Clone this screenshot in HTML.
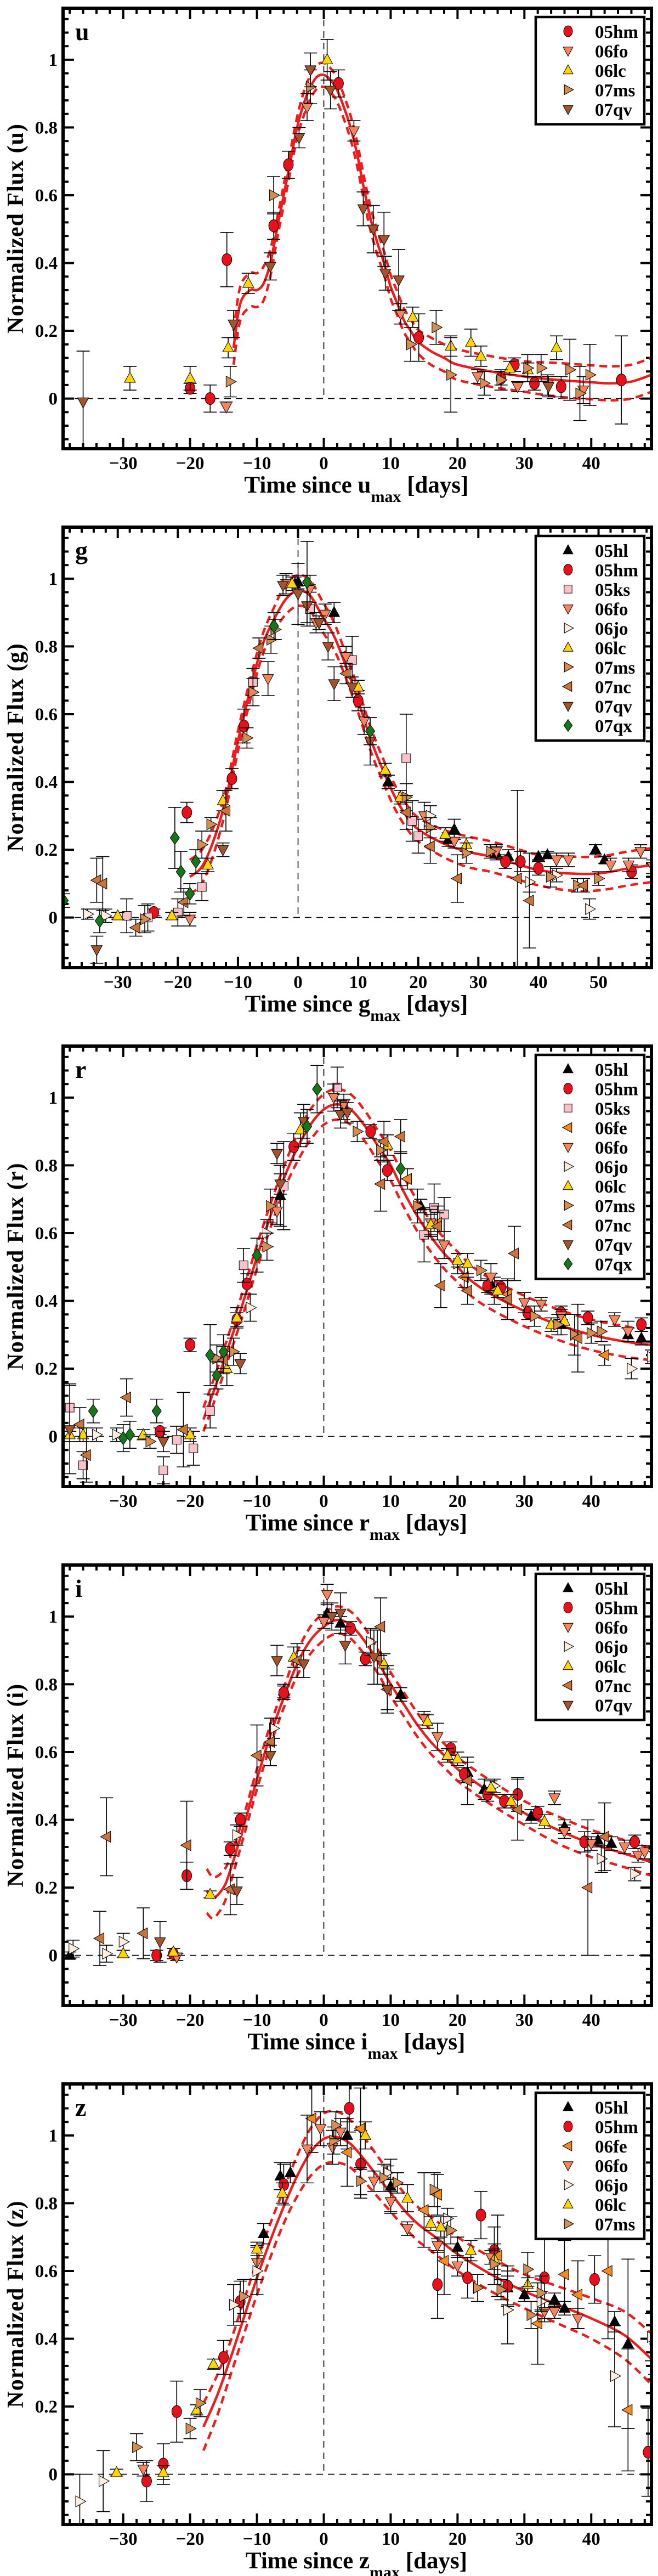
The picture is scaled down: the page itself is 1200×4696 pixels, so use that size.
<!DOCTYPE html>
<html><head><meta charset="utf-8"><style>
html,body{margin:0;padding:0;background:#fff}
svg{display:block}
text{font-family:"Liberation Serif",serif;font-weight:bold;fill:#000}
</style></head><body>
<svg id="fig" width="1200" height="4696" viewBox="0 0 1200 4696" xmlns="http://www.w3.org/2000/svg"></svg>
<script>
// ---------- data: [time, flux, error] ----------
const u_05hm=[[-20,0.03,0.015],[-17,0,0.04],[-14.5,0.41,0.08],[-7.5,0.51,0.04],[-5.3,0.69,0.04],[2.2,0.93,0.04],[14.2,0.18,0.07],[26.5,0.06,0.02],[28.5,0.10,0.02],[31.5,0.045,0.02],[35.5,0.035,0.03],[44.5,0.055,0.13]];
const u_06fo=[[-14.6,-0.025,0.015],[-2.5,0.86,0.04],[4.5,0.79,0.03],[11.5,0.25,0.03],[23,0.065,0.02],[29,0.035,0.015],[33.5,0.04,0.03],[38.8,0.025,0.04]];
const u_06lc=[[-29,0.06,0.035],[-20,0.06,0.035],[-14.3,0.15,0.03],[-11.3,0.34,0.03],[0.5,1.0,0.06],[13.3,0.24,0.03],[19,0.155,0.03],[22,0.165,0.04],[23.5,0.125,0.03],[27.8,0.09,0.02],[30.5,0.085,0.02],[34.8,0.15,0.035]];
const u_07ms=[[-14,0.05,0.045],[-7.5,0.6,0.055],[-2,0.92,0.05],[13,0.16,0.05],[16.8,0.21,0.05],[19,0.07,0.11],[24,0.045,0.035],[26.5,0.055,0.03],[30.5,0.09,0.04],[32.5,0.09,0.04],[36.8,0.085,0.09],[38.3,0.015,0.08],[39.8,0.07,0.09]];
const u_07qv=[[-36,-0.01,0.15],[-13.5,0.22,0.04],[-8,0.39,0.04],[-3.7,0.77,0.03],[-2,0.97,0.05],[1,0.91,0.055],[5.9,0.56,0.05],[7.4,0.5,0.07],[9,0.47,0.08],[9.2,0.37,0.05],[11.2,0.35,0.09],[33.6,0.035,0.03]];
const u_fitX=[-13.5,-12.5,-11,-10,-9,-8,-7,-6,-5,-4,-3,-2,-1,0,1,2,3,4,5,6,7,8,9,10,11,12,13,14,16,18,20,25,30,35,40,43,46,49];
const u_fitY=[0.15,0.28,0.32,0.32,0.34,0.40,0.50,0.60,0.70,0.80,0.87,0.92,0.95,0.955,0.94,0.91,0.86,0.80,0.72,0.62,0.53,0.46,0.40,0.33,0.28,0.23,0.20,0.17,0.14,0.12,0.10,0.08,0.065,0.055,0.048,0.045,0.05,0.07];
const u_fitS=[0.05,0.05,0.05,0.05,0.05,0.04,0.03,0.03,0.03,0.03,0.035,0.035,0.035,0.035,0.035,0.035,0.035,0.035,0.035,0.035,0.035,0.035,0.035,0.035,0.035,0.035,0.035,0.035,0.04,0.04,0.045,0.045,0.045,0.05,0.05,0.05,0.05,0.05];

const g_05hl=[[-0.5,0.985,0.02],[0,0.99,0.02],[6,0.9,0.03],[15,0.4,0.02],[25,0.23,0.02],[26,0.26,0.03],[33,0.19,0.02],[35,0.18,0.02],[40,0.18,0.01],[41.5,0.185,0.01],[49.5,0.2,0.015],[51,0.17,0.01]];
const g_05hm=[[-24,0.015,0.01],[-18.5,0.31,0.03],[-9,0.565,0.05],[-11,0.41,0.03],[10,0.64,0.03],[34.5,0.165,0.02],[37,0.165,0.03],[40,0.145,0.02],[55.5,0.135,0.02]];
const g_05ks=[[-28.5,0.005,0.05],[-25,0,0.04],[-20,0.015,0.04],[-16,0.09,0.04],[-7.5,0.695,0.04],[2,0.91,0.05],[9,0.76,0.07],[18,0.47,0.13],[20,0.24,0.05],[19,0.285,0.06]];
const g_06fo=[[-18,-0.005,0.02],[-5,0.705,0.05],[-2,0.985,0.03],[2,0.97,0.04],[3,0.87,0.03],[4.5,0.895,0.03],[8,0.77,0.03],[11,0.58,0.04],[21,0.3,0.04],[26,0.225,0.02],[33,0.195,0.02],[43,0.17,0.02],[45,0.17,0.02],[52,0.155,0.02],[55,0.155,0.02],[57,0.195,0.02],[59,0.15,0.02]];
const g_06jo=[[-35,0.01,0.015],[-32,0.005,0.02],[22,0.3,0.03],[38.5,0.105,0.03],[43,0.125,0.02],[48.5,0.025,0.03]];
const g_06lc=[[-30,0.005,0.01],[-21,0.005,0.01],[-15,0.155,0.02],[-12.5,0.345,0.03],[-1,0.985,0.02],[10,0.68,0.02],[14.5,0.435,0.02],[17,0.355,0.02],[24.5,0.245,0.02],[28,0.215,0.02]];
const g_07ms=[[-14.5,0.275,0.02],[-16,0.215,0.04],[-25.5,-0.005,0.04],[-8.5,0.53,0.03],[-7.5,0.665,0.04],[-4.5,0.82,0.04],[-3.8,0.85,0.03],[18,0.355,0.04],[22,0.265,0.03],[28,0.19,0.03],[32,0.195,0.02],[42,0.12,0.03],[46.5,0.095,0.02],[50,0.115,0.02]];
const g_07nc=[[-33.5,0.11,0.065],[-32.5,0.1,0.08],[-27,-0.03,0.025],[-19,0.045,0.04],[-12,0.315,0.06],[-6.5,0.795,0.03],[8,0.72,0.03],[18,0.31,0.05],[22,0.21,0.05],[26.5,0.115,0.07],[36.5,0.115,0.26],[38.5,0.05,0.14],[47.5,0.095,0.02]];
const g_07qv=[[-33.5,-0.095,0.04],[-12.5,0.2,0.02],[-2.5,0.98,0.03],[0,0.955,0.09],[1.5,0.92,0.06],[3.5,0.87,0.02],[5,0.8,0.04],[6,0.69,0.05],[9,0.68,0.03],[12,0.52,0.07]];
const g_07qx=[[-39,0.05,0.02],[-33,-0.01,0.035],[-20.5,0.235,0.09],[-19.5,0.135,0.06],[-18,0.07,0.03],[-17,0.165,0.035],[-4,0.86,0.04],[1.5,0.99,0.12],[12,0.55,0.04]];
const g_fitX=[-18,-16,-14,-12,-10,-8,-6,-4,-2,0,2,4,6,8,10,12,14,16,18,20,24,28,32,36,40,45,50,55,59];
const g_fitY=[0.12,0.15,0.23,0.35,0.52,0.67,0.80,0.88,0.94,0.965,0.95,0.89,0.83,0.74,0.64,0.53,0.44,0.36,0.30,0.26,0.22,0.195,0.18,0.16,0.14,0.13,0.13,0.145,0.155];
const g_fitS=[0.05,0.05,0.04,0.03,0.03,0.03,0.03,0.035,0.045,0.045,0.045,0.045,0.04,0.035,0.035,0.035,0.035,0.035,0.035,0.035,0.04,0.045,0.045,0.045,0.045,0.05,0.05,0.05,0.05];

const r_05hl=[[-6.5,0.71,0.09],[3,0.965,0.03],[14.5,0.68,0.02],[25,0.45,0.03],[35.5,0.33,0.03],[45.5,0.3,0.02],[47.5,0.29,0.02]];
const r_05hm=[[-20,0.27,0.02],[-24.5,0.015,0.01],[-11.5,0.45,0.03],[-13,0.345,0.02],[-4.5,0.855,0.04],[7,0.9,0.02],[9.5,0.785,0.03],[24.5,0.445,0.02],[26.5,0.44,0.02],[30.5,0.365,0.02],[35.5,0.365,0.02],[39.5,0.35,0.02],[47.5,0.33,0.02]];
const r_05ks=[[-38,0.085,0.07],[-36,-0.085,0.04],[-24,-0.1,0.04],[-22,-0.01,0.04],[-19.5,-0.035,0.05],[-17,0.075,0.05],[-12,0.505,0.05],[-6,0.74,0.13],[2,1.03,0.06],[15,0.595,0.08],[16.5,0.675,0.07],[18,0.655,0.05]];
const r_06fe=[[12.5,0.76,0.03],[17,0.63,0.05],[21,0.47,0.03],[25.5,0.43,0.04],[27.5,0.42,0.04],[42,0.24,0.03]];
const r_06fo=[[-7,0.665,0.04],[1.5,1.0,0.04],[3,0.98,0.03],[16,0.63,0.04],[18,0.565,0.04],[25,0.47,0.04],[30,0.395,0.03],[32.5,0.39,0.02],[35.5,0.355,0.02],[43.5,0.345,0.02],[45.5,0.31,0.03]];
const r_06jo=[[-34,0.005,0.02],[-31,0.005,0.02],[-11,0.38,0.04],[-8.5,0.6,0.04],[20,0.51,0.03],[46,0.2,0.03],[49,0.235,0.02]];
const r_06lc=[[-38,0.005,0.02],[-36,0.005,0.02],[-27,0.005,0.015],[-20,0.005,0.02],[-14.5,0.2,0.05],[-13,0.35,0.03],[-3.5,0.905,0.05],[9.5,0.86,0.03],[16,0.625,0.03],[20,0.52,0.02],[21.5,0.51,0.03],[26,0.43,0.02],[34,0.33,0.02],[36,0.34,0.02]];
const r_07ms=[[-26,-0.015,0.02],[-16,0.23,0.04],[-13.5,0.25,0.04],[-8.5,0.56,0.04],[-8,0.68,0.05],[5,0.9,0.03],[8.5,0.845,0.03],[14,0.68,0.05],[23.5,0.49,0.03],[31.5,0.355,0.03],[35,0.33,0.03],[37.5,0.3,0.06],[40,0.305,0.03],[41.5,0.31,0.03]];
const r_07nc=[[-36.5,0.035,0.05],[-29.5,0.115,0.055],[-21,0.02,0.11],[-35.5,-0.055,0.08],[-15,0.225,0.04],[8.5,0.745,0.08],[9,0.87,0.06],[11.5,0.885,0.05],[17,0.62,0.04],[17.5,0.445,0.065],[21.5,0.43,0.04],[27.5,0.405,0.06],[28.5,0.54,0.08],[38,0.29,0.1]];
const r_07qv=[[-38,0.02,0.13],[-24,-0.015,0.03],[-12.5,0.215,0.03],[-7,0.835,0.03],[-6.5,0.745,0.03],[-3,0.93,0.05],[2.5,0.95,0.04],[3.5,0.955,0.03]];
const r_07qx=[[-34.5,0.075,0.035],[-30,-0.005,0.04],[-29,0.005,0.04],[-25,0.075,0.035],[-17,0.24,0.09],[-16,0.18,0.04],[-15,0.25,0.05],[-10,0.535,0.05],[-2.5,0.915,0.05],[-1,1.025,0.07],[11.5,0.79,0.05]];
const r_fitX=[-18,-16,-14,-12,-10,-8,-6,-4,-2,0,2,4,6,8,10,12,14,16,18,20,22,25,30,35,40,45,49];
const r_fitY=[0.05,0.16,0.28,0.40,0.53,0.65,0.76,0.85,0.92,0.965,0.98,0.965,0.92,0.86,0.80,0.72,0.65,0.59,0.54,0.50,0.46,0.42,0.37,0.33,0.30,0.28,0.27];
const r_fitS=[0.035,0.035,0.035,0.035,0.035,0.035,0.035,0.04,0.045,0.045,0.045,0.045,0.045,0.045,0.045,0.045,0.045,0.045,0.045,0.045,0.045,0.045,0.045,0.045,0.045,0.045,0.045];

const i_05hl=[[-38,0.0,0.01],[-6,0.78,0.02],[0.5,1.01,0.03],[2.5,0.98,0.02],[11.5,0.77,0.02],[21.5,0.54,0.03],[24,0.49,0.03],[31,0.41,0.02],[36,0.38,0.02],[41,0.34,0.02],[43,0.33,0.02]];
const i_05hm=[[-25,0,0.015],[-22.5,0.005,0.015],[-20.5,0.235,0.04],[-14,0.315,0.02],[-12.5,0.4,0.02],[-6,0.775,0.02],[4,0.965,0.02],[6.2,0.875,0.02],[19,0.61,0.02],[21,0.535,0.02],[24.5,0.475,0.02],[27,0.455,0.02],[29,0.475,0.05],[32,0.42,0.02],[39,0.335,0.03],[46.5,0.335,0.02]];
const i_06fo=[[-22,-0.005,0.01],[0,0.985,0.02],[0.5,1.065,0.03],[15,0.7,0.02],[17,0.645,0.04],[34.5,0.465,0.02],[36,0.365,0.02],[40,0.33,0.02],[45,0.32,0.02],[47,0.295,0.02],[48,0.305,0.02],[49.5,0.295,0.02]];
const i_06jo=[[-37.5,0.02,0.025],[-32.5,0.005,0.025],[-30,0.04,0.025],[-13,0.355,0.03],[-7.5,0.67,0.03],[7,0.925,0.04],[25.5,0.5,0.02],[41.5,0.285,0.04],[46.5,0.24,0.02]];
const i_06lc=[[-30,0.005,0.01],[-22.5,0.01,0.01],[-17,0.18,0.01],[-4.5,0.88,0.03],[9,0.86,0.03],[15.5,0.69,0.02],[18.5,0.59,0.02],[20,0.58,0.02],[25,0.495,0.02],[28,0.455,0.02],[33,0.395,0.02]];
const i_07nc=[[-33.5,0.05,0.08],[-32.5,0.35,0.115],[-27,0.065,0.075],[-20.5,0.325,0.13],[-14,0.195,0.075],[-10,0.59,0.09],[-8,0.63,0.07],[-4,0.87,0.05],[8,0.88,0.08],[8.5,0.97,0.085],[9.5,0.785,0.06],[21.5,0.515,0.07],[29,0.43,0.09],[39.5,0.2,0.2],[42,0.35,0.1]];
const i_07qv=[[-24.5,0.04,0.06],[-13,0.19,0.04],[-8,0.59,0.03],[-7,0.87,0.045],[-3,0.86,0.04],[1.2,1.0,0.04],[2.5,1.01,0.06],[3.2,0.915,0.055],[7.5,0.88,0.08],[9.5,0.785,0.07]];
const i_fitX=[-17.5,-16.5,-15,-14,-12,-10,-8,-6,-4,-2,0,2,4,6,8,10,12,14,16,18,20,22,25,30,35,40,45,49];
const i_fitY=[0.19,0.17,0.20,0.25,0.38,0.52,0.65,0.76,0.86,0.93,0.97,0.99,0.975,0.93,0.87,0.80,0.74,0.68,0.63,0.59,0.55,0.52,0.48,0.42,0.37,0.33,0.30,0.275];
const i_fitS=[0.065,0.06,0.05,0.04,0.03,0.03,0.03,0.03,0.035,0.04,0.04,0.04,0.04,0.04,0.035,0.035,0.035,0.035,0.035,0.035,0.035,0.035,0.035,0.035,0.04,0.04,0.04,0.04];

const z_05hl=[[-9,0.71,0.03],[-6.5,0.88,0.04],[-5,0.89,0.03],[3.5,1.0,0.04],[10,0.85,0.08],[20,0.67,0.03],[27.5,0.55,0.05],[30,0.53,0.02],[34.5,0.515,0.02],[36,0.49,0.02],[43.5,0.45,0.03],[45.5,0.385,0.25]];
const z_05hm=[[-26.5,-0.02,0.06],[-24,0.03,0.06],[-22,0.185,0.09],[-15,0.345,0.05],[-12.5,0.51,0.06],[-6,0.855,0.06],[3.8,1.08,0.07],[5.5,0.915,0.1],[17,0.56,0.1],[21.5,0.58,0.06],[23.5,0.765,0.07],[25.5,0.66,0.07],[27.5,0.555,0.06],[33,0.58,0.12],[40.5,0.575,0.07],[48.5,0.065,0.13],[49.5,0.385,0.09]];
const z_06fe=[[-1.8,1.05,0.1],[3.5,0.95,0.1],[5.5,1.02,0.12],[15,0.78,0.11],[17,0.825,0.06],[18,0.63,0.1],[26,0.645,0.12],[32,0.445,0.12],[36,0.59,0.1],[38,0.53,0.1],[42.5,0.6,0.2],[45.5,0.19,0.18]];
const z_06fo=[[-27,0.015,0.02],[-10,0.625,0.05],[-2.5,0.96,0.1],[-0.5,1.02,0.05],[1.3,0.965,0.05],[2.5,1.01,0.04],[7.5,0.865,0.03],[10,0.805,0.03],[12.5,0.725,0.02],[17,0.675,0.02],[20,0.615,0.03],[25,0.64,0.02],[33,0.48,0.03],[34.5,0.48,0.02],[38,0.46,0.03]];
const z_06jo=[[-36.5,-0.08,0.08],[-33,-0.02,0.09],[-13.5,0.5,0.06],[-10,0.6,0.07],[9.5,0.89,0.02],[18.5,0.755,0.03],[27.5,0.485,0.1],[32.5,0.51,0.03],[43.5,0.29,0.15],[49,0.405,0.07]];
const z_06lc=[[-31,0.005,0.01],[-24,0.005,0.02],[-19,0.19,0.015],[-16.5,0.325,0.015],[-10,0.665,0.02],[-6.2,0.83,0.03],[6.2,1.0,0.04],[12.5,0.815,0.04],[16,0.74,0.02],[17.5,0.73,0.03],[22,0.66,0.03],[25.5,0.635,0.03],[30.5,0.56,0.02]];
const z_07ms=[[-28,0.08,0.04],[-20,0.135,0.03],[-18.5,0.21,0.04],[-12,0.525,0.05],[1.5,0.985,0.04],[1.8,1.03,0.04],[5.5,0.865,0.04],[9,0.875,0.04],[11,0.86,0.03],[16.5,0.84,0.05],[19,0.72,0.04],[23,0.55,0.04],[25.5,0.62,0.06],[26.5,0.545,0.03],[30.5,0.605,0.05],[31,0.47,0.04],[32.5,0.535,0.05]];
const z_fitX=[-18,-16,-14,-12,-10,-8,-6,-4,-2,0,2,4,6,8,10,12,14,16,18,20,25,30,35,40,45,49];
const z_fitY=[0.14,0.23,0.34,0.46,0.58,0.69,0.79,0.88,0.95,0.99,0.995,0.975,0.93,0.88,0.83,0.78,0.74,0.71,0.68,0.65,0.59,0.54,0.50,0.46,0.41,0.34];
const z_fitS=[0.07,0.06,0.05,0.05,0.05,0.05,0.05,0.06,0.07,0.075,0.075,0.07,0.065,0.06,0.055,0.05,0.05,0.05,0.05,0.05,0.05,0.05,0.055,0.06,0.07,0.075];

const xTicksA=[-30,-20,-10,0,10,20,30,40];
const xTicksG=[-30,-20,-10,0,10,20,30,40,50];
const yTicks=[0,0.2,0.4,0.6,0.8,1];
const yTickLabels=["0","0.2","0.4","0.6","0.8","1"];

// ---------- styling ----------
const STY={
 '05hl':{shape:'up',fill:'#000000'},
 '05hm':{shape:'circle',fill:'#e8101a'},
 '05ks':{shape:'square',fill:'#f9c2cb'},
 '06fe':{shape:'left',fill:'#f28a1e'},
 '06fo':{shape:'down',fill:'#f7845c'},
 '06jo':{shape:'right',fill:'#fbeede'},
 '06lc':{shape:'up',fill:'#ffd500'},
 '07ms':{shape:'right',fill:'#d48e52'},
 '07nc':{shape:'left',fill:'#c8743a'},
 '07qv':{shape:'down',fill:'#a3542d'},
 '07qx':{shape:'diamond',fill:'#15761a'}
};
const panels=[
 {band:'u',xmin:-39,xmax:49,ticks:xTicksA,series:{'05hm':u_05hm,'06fo':u_06fo,'06lc':u_06lc,'07ms':u_07ms,'07qv':u_07qv},fx:u_fitX,fy:u_fitY,fs:u_fitS},
 {band:'g',xmin:-39.1,xmax:58.8,ticks:xTicksG,series:{'05hl':g_05hl,'05hm':g_05hm,'05ks':g_05ks,'06fo':g_06fo,'06jo':g_06jo,'06lc':g_06lc,'07ms':g_07ms,'07nc':g_07nc,'07qv':g_07qv,'07qx':g_07qx},fx:g_fitX,fy:g_fitY,fs:g_fitS},
 {band:'r',xmin:-39,xmax:49,ticks:xTicksA,series:{'05hl':r_05hl,'05hm':r_05hm,'05ks':r_05ks,'06fe':r_06fe,'06fo':r_06fo,'06jo':r_06jo,'06lc':r_06lc,'07ms':r_07ms,'07nc':r_07nc,'07qv':r_07qv,'07qx':r_07qx},fx:r_fitX,fy:r_fitY,fs:r_fitS},
 {band:'i',xmin:-39,xmax:49,ticks:xTicksA,series:{'05hl':i_05hl,'05hm':i_05hm,'06fo':i_06fo,'06jo':i_06jo,'06lc':i_06lc,'07nc':i_07nc,'07qv':i_07qv},fx:i_fitX,fy:i_fitY,fs:i_fitS},
 {band:'z',xmin:-39,xmax:49,ticks:xTicksA,series:{'05hl':z_05hl,'05hm':z_05hm,'06fe':z_06fe,'06fo':z_06fo,'06jo':z_06jo,'06lc':z_06lc,'07ms':z_07ms},fx:z_fitX,fy:z_fitY,fs:z_fitS}
];

const NS='http://www.w3.org/2000/svg';
const svg=document.getElementById('fig');
function mk(tag,attrs,parent){const e=document.createElementNS(NS,tag);for(const k in attrs)e.setAttribute(k,attrs[k]);(parent||svg).appendChild(e);return e;}

const L=115,R=1188,YMIN=-0.148,YMAX=1.152,H=803;

function markerPath(shape,x,y,s){
 if(shape==='up')return `M${x},${y-s*1.1}L${x+s},${y+s*0.75}L${x-s},${y+s*0.75}Z`;
 if(shape==='down')return `M${x},${y+s*1.1}L${x+s},${y-s*0.75}L${x-s},${y-s*0.75}Z`;
 if(shape==='left')return `M${x-s*1.1},${y}L${x+s*0.75},${y-s}L${x+s*0.75},${y+s}Z`;
 if(shape==='right')return `M${x+s*1.1},${y}L${x-s*0.75},${y-s}L${x-s*0.75},${y+s}Z`;
 if(shape==='square')return `M${x-s*0.8},${y-s*0.8}h${s*1.6}v${s*1.6}h${-s*1.6}Z`;
 if(shape==='diamond')return `M${x},${y-s*1.2}L${x+s*0.85},${y}L${x},${y+s*1.2}L${x-s*0.85},${y}Z`;
 return '';
}
function smooth(pts){
 let d=`M${pts[0][0]},${pts[0][1]}`;
 for(let k=0;k<pts.length-1;k++){
  const p0=pts[Math.max(0,k-1)],p1=pts[k],p2=pts[k+1],p3=pts[Math.min(pts.length-1,k+2)];
  const c1x=p1[0]+(p2[0]-p0[0])/6,c1y=p1[1]+(p2[1]-p0[1])/6;
  const c2x=p2[0]-(p3[0]-p1[0])/6,c2y=p2[1]-(p3[1]-p1[1])/6;
  d+=`C${c1x.toFixed(1)},${c1y.toFixed(1)} ${c2x.toFixed(1)},${c2y.toFixed(1)} ${p2[0].toFixed(1)},${p2[1].toFixed(1)}`;
 }
 return d;
}

panels.forEach((p,pi)=>{
 const top=15+946*pi, bot=top+H;
 const sx=v=>L+(v-p.xmin)/(p.xmax-p.xmin)*(R-L);
 const sy=v=>top+(YMAX-v)/(YMAX-YMIN)*H;
 const g=mk('g',{});
 
 
 const clipId='clip'+pi;
 const cp=mk('clipPath',{id:clipId},g);mk('rect',{x:L,y:top,width:R-L,height:H},cp);

 const z0=mk('line',{x1:L,x2:R,y1:sy(0),y2:sy(0),stroke:'#000','stroke-width':1.6,'stroke-dasharray':'12,9'},g);
 
 const v0=mk('line',{x1:sx(0),x2:sx(0),y1:top,y2:sy(0),stroke:'#000','stroke-width':1.6,'stroke-dasharray':'12,9'},g);
 

 const tk=mk('g',{stroke:'#000'},g);
 
 for(let v=Math.ceil(p.xmin/2)*2;v<=p.xmax;v+=2){
  const major=v%10===0, len=major?20:10, x=sx(v);
  mk('line',{x1:x,x2:x,y1:bot,y2:bot-len,'stroke-width':4},tk);
  mk('line',{x1:x,x2:x,y1:top,y2:top+len,'stroke-width':4},tk);
 }
 for(let k=-3;k<=28;k++){
  const v=k*0.04; if(v<YMIN||v>YMAX)continue;
  const major=k%5===0, len=major?20:10, y=sy(v);
  mk('line',{x1:L,x2:L+len,y1:y,y2:y,'stroke-width':4},tk);
  mk('line',{x1:R,x2:R-len,y1:y,y2:y,'stroke-width':4},tk);
 }

 const cg=mk('g',{'clip-path':`url(#${clipId})`,fill:'none',stroke:'#ee1c1c'},g);
 const mid=p.fx.map((x,k)=>[sx(x),sy(p.fy[k])]);
 const up=p.fx.map((x,k)=>[sx(x),sy(p.fy[k]+p.fs[k])]);
 const lo=p.fx.map((x,k)=>[sx(x),sy(p.fy[k]-p.fs[k])]);
 const c1=mk('path',{d:smooth(mid),'stroke-width':4.5},cg);
 
 const c2=mk('path',{d:smooth(up),'stroke-width':4.5,'stroke-dasharray':'14,9'},cg);
 
 const c3=mk('path',{d:smooth(lo),'stroke-width':4.5,'stroke-dasharray':'14,9'},cg);
 

 Object.keys(p.series).forEach(name=>{
  const st=STY[name];
  const sg=mk('g',{'clip-path':`url(#${clipId})`},g);
  
  
  p.series[name].forEach(d=>{
   const x=sx(d[0]),y=sy(d[1]),y1=sy(d[1]+d[2]),y2=sy(d[1]-d[2]);
   const eb=mk('path',{d:`M${x},${y1}V${y2}M${x-12},${y1}h24M${x-12},${y2}h24`,stroke:'#000','stroke-width':1.6,fill:'none'},sg);
   
   let m;
   if(st.shape==='circle')m=mk('ellipse',{cx:x,cy:y,rx:9,ry:11,fill:st.fill,stroke:'#000','stroke-width':1},sg);
   else m=mk('path',{d:markerPath(st.shape,x,y,10),fill:st.fill,stroke:'#000','stroke-width':1},sg);
   
  });
 });

 const fr=mk('rect',{x:L,y:top,width:R-L,height:H,fill:'none',stroke:'#000','stroke-width':6},g);
 

 p.ticks.forEach(v=>{
  const t=mk('text',{x:sx(v),y:bot+37,'text-anchor':'middle','font-size':33},g);
  t.textContent=(v<0?'\u2212'+(-v):String(v));
  
 });
 yTicks.forEach((v,k)=>{
  const t=mk('text',{x:105,y:sy(v)+11,'text-anchor':'end','font-size':33},g);
  t.textContent=yTickLabels[k];
  
 });

 const yt=mk('text',{x:0,y:0,'text-anchor':'middle','font-size':42,transform:`translate(42,${top+H/2}) rotate(-90)`,'letter-spacing':'1'},g);
 yt.textContent='Normalized Flux ('+p.band+')';
 
 const xt=mk('text',{x:650,y:bot+80,'text-anchor':'middle','font-size':43},g);
 
 const a=mk('tspan',{},xt);a.textContent='Time since '+p.band;
 const b=mk('tspan',{dy:17,'font-size':30},xt);b.textContent='max';
 const c=mk('tspan',{dy:-17},xt);c.textContent=' [days]';
 const pl=mk('text',{x:137,y:top+58,'font-size':46},g);
 pl.textContent=p.band;
 

 const names=Object.keys(STY).filter(n=>p.series[n]);
 const lg=mk('g',{},g);
 
 const lh=names.length*35.5+18;
 mk('rect',{x:977,y:top+16,width:198,height:lh,fill:'#fff',stroke:'#000','stroke-width':4.5},lg);
 names.forEach((n,k)=>{
  const cy=top+42+k*35.5, st=STY[n];
  const e=mk('g',{},lg);
  
  if(st.shape==='circle')mk('ellipse',{cx:1036,cy:cy,rx:8,ry:10,fill:st.fill,stroke:'#000','stroke-width':1},e);
  else mk('path',{d:markerPath(st.shape,1036,cy,9),fill:st.fill,stroke:'#000','stroke-width':1},e);
  const t=mk('text',{x:1085,y:cy+12,'font-size':33},e);t.textContent=n;
 });
});
</script>
</body></html>
